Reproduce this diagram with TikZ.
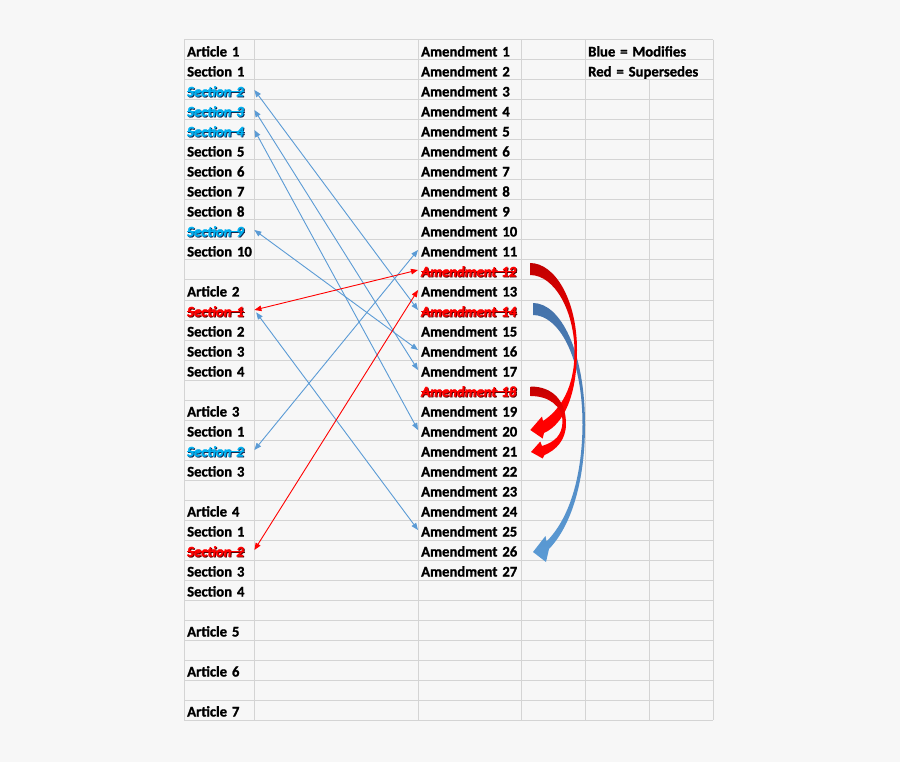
\documentclass[tikz,border=0pt]{standalone}
\usepackage{fontspec}
\setmainfont{Carlito}[BoldFeatures={FakeBold=1.2},BoldItalicFeatures={FakeBold=1.2}]
\usetikzlibrary{arrows.meta}
\definecolor{bg}{RGB}{247,247,247}
\definecolor{gridc}{RGB}{212,212,212}
\definecolor{lblue}{RGB}{91,155,213}
\definecolor{dblue}{RGB}{68,114,170}
\definecolor{cyanT}{RGB}{0,176,240}
\definecolor{navyS}{RGB}{20,40,80}
\definecolor{redS}{RGB}{90,0,0}
\definecolor{dred}{RGB}{192,0,0}
\definecolor{bred}{RGB}{255,0,0}
\newsavebox\stbox
\newcommand\strikeshadow[3]{%
  \sbox\stbox{\bfseries\itshape #3}%
  \makebox[0pt][l]{\kern0.9pt\raisebox{-0.9pt}{\color{#2}\bfseries\itshape #3\kern-\wd\stbox\rule[4.5pt]{\wd\stbox}{1pt}}}%
  \mbox{\color{#1}\bfseries\itshape #3\kern-\wd\stbox\rule[4.5pt]{\wd\stbox}{1pt}}}
\begin{document}
\begin{tikzpicture}[x=1pt,y=-1pt,
  font=\fontsize{14.7pt}{16pt}\selectfont\bfseries,
  gridline/.style={draw=gridc,line width=1pt},
  cellL/.style={anchor=west,text width=64pt,inner xsep=3pt,inner ysep=0pt,
    text height=13pt,text depth=0pt,align=left},
  cellA/.style={cellL,text width=97pt},
  cellG/.style={cellL,text width=122pt},
  modline/.style={draw=lblue,line width=0.9pt,<->,>={Triangle[length=7pt,width=5.5pt]}},
  supline/.style={draw=bred,line width=0.9pt,<->,>={Triangle[length=7pt,width=5.5pt]}}]
\fill[bg] (0,0) rectangle (900,762);
% grid
\foreach \k in {0,...,34} \draw[gridline] (184,{40+20*\k}) -- (713,{40+20*\k});
\foreach \x in {184,254,418,521,585,713} \draw[gridline] (\x,40) -- (\x,720);
\draw[gridline] (649,80) -- (649,720);
% left column
\foreach \r/\t in {1/Article 1,2/Section 1,6/Section 5,7/Section 6,8/Section 7,9/Section 8,
  11/Section 10,13/Article 2,15/Section 2,16/Section 3,17/Section 4,19/Article 3,
  20/Section 1,22/Section 3,24/Article 4,25/Section 1,27/Section 3,28/Section 4,
  30/Article 5,32/Article 6,34/Article 7}
  \node[cellL] (L\r) at (184,{30+20*\r}) {\mbox{\t}};
\foreach \r/\t in {3/Section 2,4/Section 3,5/Section 4,10/Section 9,21/Section 2}
  \node[cellL] (L\r) at (184,{30+20*\r}) {\strikeshadow{cyanT}{navyS}{\t}};
\foreach \r/\t in {14/Section 1,26/Section 2}
  \node[cellL] (L\r) at (184,{30+20*\r}) {\strikeshadow{bred}{redS}{\t}};
% amendments
\foreach \n in {1,...,11,13,15,16,17,19,20,21,22,23,24,25,26,27}
  \node[cellA] (A\n) at (418,{30+20*\n}) {\mbox{Amendment \n}};
\foreach \n in {12,14,18}
  \node[cellA] (A\n) at (418,{30+20*\n}) {\strikeshadow{bred}{redS}{Amendment \n}};
% legend
\node[cellG] (G1) at (585,50) {\mbox{Blue = Modifies}};
\node[cellG] (G2) at (585,70) {\mbox{Red = Supersedes}};
% thin connectors
\draw[modline] (L3.east) -- (A14.west);
\draw[modline] (L4.east) -- (A17.west);
\draw[modline] (L5.east) -- (A20.west);
\draw[modline] (L10.east) -- (A16.west);
\draw[modline] (L21.east) -- (A11.west);
\draw[modline,shorten <=3pt] (L14.east) -- (A25.west);
\draw[supline] (L14.east) -- (A12.west);
\draw[supline] (L26.east) -- (A13.west);
% curved block arrows
\shade[top color=dblue,bottom color=lblue]
  (533,303) .. controls (560,303) and (585,350) .. (585,425)
  .. controls (585,480) and (572,525) .. (549,549)
  -- (546,562) -- (533,552) -- (545.5,536) -- (546.5,541.5)
  .. controls (568,520) and (582,480) .. (582.5,425)
  .. controls (582.5,355) and (558,315) .. (533,315) -- cycle;
\shade[top color=dred,bottom color=bred,middle color=bred]
  (530,263) .. controls (555,263) and (577,300) .. (577,350)
  .. controls (577,395) and (564,424) .. (544,433)
  -- (542.7,438.5) -- (530.3,430) -- (542,416.5) -- (543,421)
  .. controls (560,410) and (574.5,388) .. (574.5,352)
  .. controls (574.5,312) and (555,275) .. (530,275) -- cycle;
\shade[top color=dred,bottom color=bred,middle color=bred]
  (530.5,386.5) .. controls (552,386.5) and (566,400) .. (566,424)
  .. controls (566,440) and (556,450) .. (544.5,455)
  -- (542.7,458.5) -- (531,452) -- (540.3,441.5) -- (542,446)
  .. controls (555,442) and (562,435) .. (562.5,422)
  .. controls (562.5,406) and (549,396) .. (530.5,396) -- cycle;
\end{tikzpicture}
\end{document}
